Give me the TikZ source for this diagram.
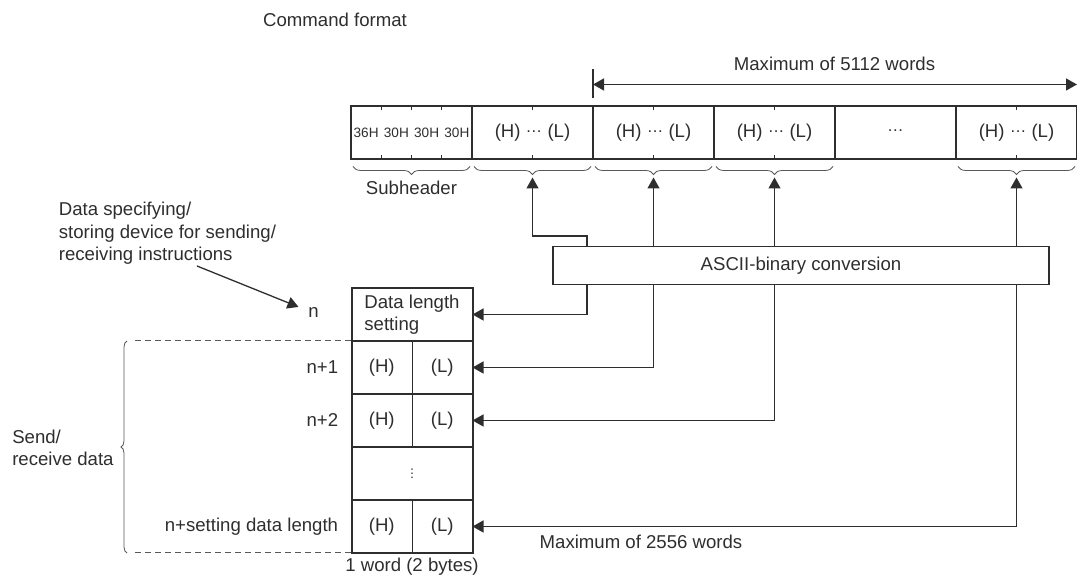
\documentclass[tikz,border=0pt]{standalone}
\usepackage{fontspec}
\setmainfont{Liberation Sans}
\newfontfamily\symfont{DejaVu Sans}
\usetikzlibrary{arrows.meta, positioning, calc, decorations.pathreplacing}
\definecolor{ink}{HTML}{2E2E2E}
\newcommand{\middots}{\raisebox{0.26em}{\fontsize{8.3}{9}\selectfont\textellipsis}}
\tikzset{
  txt/.style={inner sep=1pt, text=ink, font=\fontsize{9.3}{11.3}\selectfont},
  smalltxt/.style={txt, font=\fontsize{6.8}{8}\selectfont},
  cell/.style={txt, draw=ink, line width=1pt, minimum width=60.5pt, minimum height=26.5pt, inner sep=0pt, outer sep=0pt},
  convbox/.style={txt, draw=ink, line width=0.65pt, minimum width=248pt, minimum height=18.75pt},
  arrow/.style={-{Triangle[length=5.5pt,width=6pt]}, line width=0.65pt, draw=ink},
  dblarrow/.style={{Triangle[length=5.5pt,width=6pt]}-{Triangle[length=5.5pt,width=6pt]}, line width=0.65pt, draw=ink},
  tick/.style={line width=0.5pt, draw=ink},
  bracedown/.style={decorate, decoration={brace, mirror, amplitude=4pt}, line width=0.4pt, draw=ink!80},
  braceleft/.style={decorate, decoration={brace, amplitude=3pt}, line width=0.4pt, draw=ink!80},
  dashline/.style={dash pattern=on 3pt off 2pt, line width=0.5pt, draw=ink!80}
}

\begin{document}
\begin{tikzpicture}[x=0.5pt, y=-0.5pt]
\useasboundingbox (0,0) rectangle (1077,581);

\node[txt] (title) at (335,20) {Command format};

% command row
\node[cell] (sub) at (411.5,133) {};
\node[cell, right=0pt of sub] (c1) {(H) \middots\ (L)};
\node[cell, right=0pt of c1] (c2) {(H) \middots\ (L)};
\node[cell, right=0pt of c2] (c3) {(H) \middots\ (L)};
\node[cell, right=0pt of c3] (c4) {\middots};
\node[cell, right=0pt of c4] (c5) {(H) \middots\ (L)};

\foreach \t/\f [count=\i] in {36H/0.125, 30H/0.375, 30H/0.625, 30H/0.875}
  \node[smalltxt] (sb\i) at ($(sub.west)!\f!(sub.east)$) {\t};

\foreach \f in {0.25,0.5,0.75} {
  \draw[tick] ($(sub.north west)!\f!(sub.north east)$) -- ++(0,4);
  \draw[tick] ($(sub.south west)!\f!(sub.south east)$) -- ++(0,-4);
}
\foreach \c in {c1,c2,c3,c5} {
  \draw[tick] (\c.north) -- ++(0,4);
  \draw[tick] (\c.south) -- ++(0,-4);
}
\foreach \c in {sub,c1,c2,c3,c5}
  \draw[bracedown] ([xshift=1pt,yshift=-3.5pt]\c.south west) -- ([xshift=-1pt,yshift=-3.5pt]\c.south east);

\node[txt] (subl) at (411.5,188) {Subheader};

% maximum of 5112 words
\coordinate (wl) at ([yshift=11pt]c2.north west);
\coordinate (wr) at ([yshift=11pt]c5.north east);
\draw[tick, line width=0.65pt] ([yshift=4pt]c2.north west) -- ([yshift=18.5pt]c2.north west);
\draw[dblarrow] (wl) -- (wr);
\node[txt] (max1) at (834.5,64) {Maximum of 5112 words};

\node[convbox] (conv) at (801,265.5) {ASCII-binary conversion\hspace{15pt}};

% word table
\node[cell, align=left] (len) at (412,314.5) {Data length\\setting};
\node[cell, below=0pt of len] (rw1) {};
\node[cell, below=0pt of rw1] (rw2) {};
\node[cell, below=0pt of rw2] (rw3) {\symfont\fontsize{6}{7}\selectfont ⋮};
\node[cell, below=0pt of rw3] (rw4) {};

\foreach \r/\lab in {rw1/n+1, rw2/n+2, rw4/n+setting data length} {
  \draw[tick] (\r.north) -- (\r.south);
  \node[txt] (\r-h) at ($(\r.west)!0.25!(\r.east)$) {(H)};
  \node[txt] (\r-l) at ($(\r.west)!0.75!(\r.east)$) {(L)};
  \node[txt, left=5.5pt of \r] (\r-n) {\lab};
}
\node[txt] (nlbl) at (313.5,313) {n};

\node[txt, align=left, anchor=west] (note) at (56.5,233.5) {Data specifying/\\storing device for sending/\\receiving instructions};
\coordinate (ns) at (197,266);
\draw[arrow, shorten >=4pt] (ns) -- (nlbl);

\coordinate (dl) at (135,0);
\draw[dashline] (dl |- len.south) -- (len.south west);
\draw[dashline] (dl |- rw4.south) -- (rw4.south west);
\draw[braceleft] (127,553) -- (127,341);
\node[txt, align=left, anchor=east] (srd) at (116,448) {Send/\\receive data};

\node[txt] (word) at (412,567) {1 word (2 bytes)};
\node[txt] (max2) at (641,542) {Maximum of 2556 words};

% conversion links
\foreach \c in {c1,c2,c3,c5}
  \coordinate (t\c) at ([yshift=-9pt]\c.south);
\coordinate (k1) at (587,236);
\draw[arrow] (k1 |- conv.north) -- (k1) -| (tc1);
\draw[arrow] (k1 |- conv.south) |- (len.east);
\foreach \c/\r in {c2/rw1, c3/rw2, c5/rw4} {
  \draw[arrow] (t\c |- conv.north) -- (t\c);
  \draw[arrow] (t\c |- conv.south) |- (\r.east);
}

\end{tikzpicture}
\end{document}
